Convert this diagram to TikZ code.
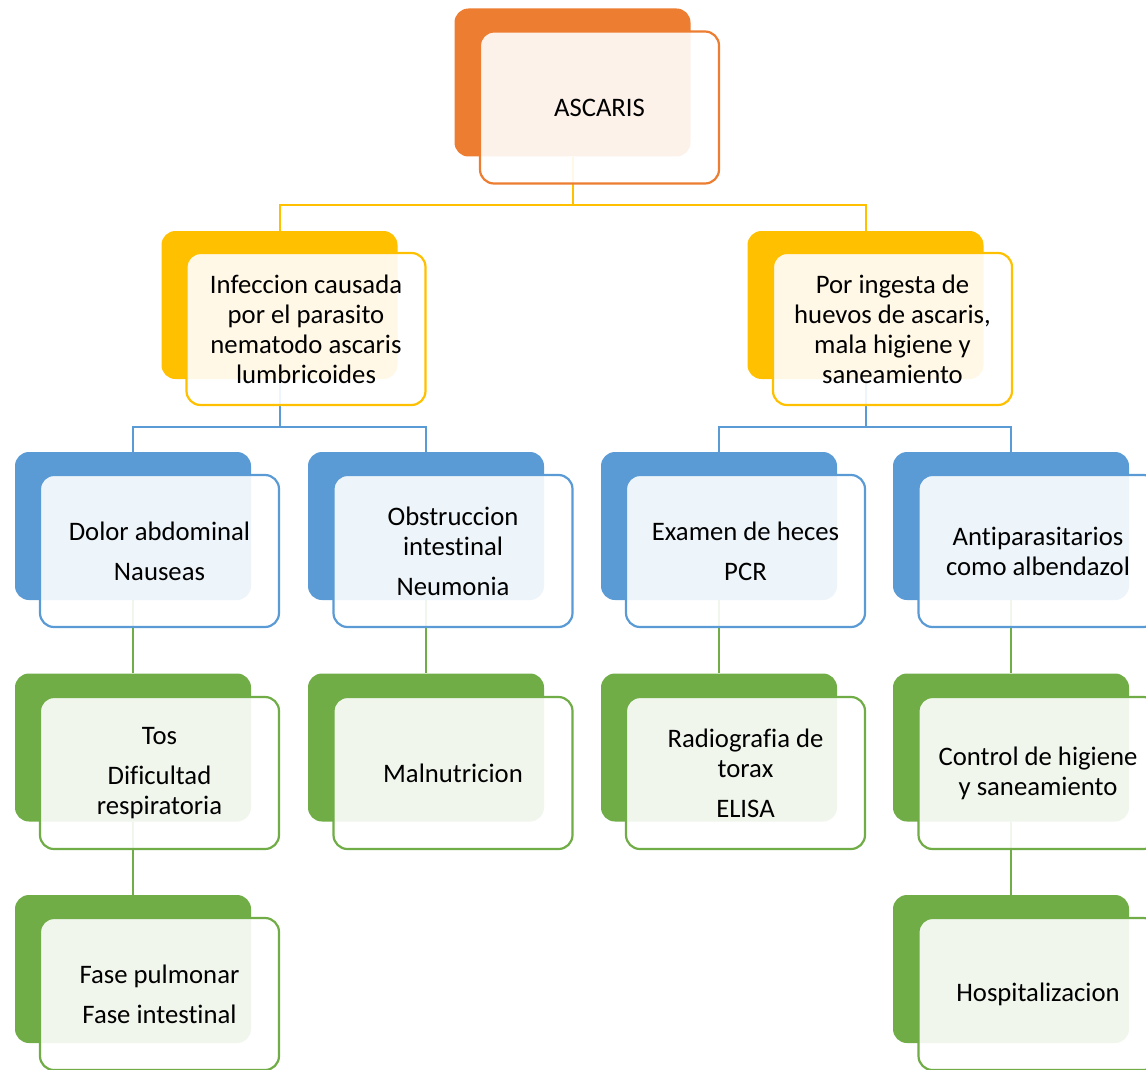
\documentclass[tikz,border=0pt]{standalone}
\usepackage{fontspec}
\setmainfont[RawFeature={-liga;-dlig}]{Carlito}
\definecolor{corange}{HTML}{ED7D31}
\definecolor{cgold}{HTML}{FFC000}
\definecolor{cblue}{HTML}{5B9BD5}
\definecolor{cgreen}{HTML}{70AD47}
\newcommand{\lbl}{\fontsize{26.7}{30}\selectfont}
\tikzset{
  backbox/.style={rounded corners=14pt, minimum width=236pt, minimum height=148pt, inner sep=0pt, fill=#1},
  frontbox/.style={rounded corners=14pt, minimum width=239pt, minimum height=152pt, draw=#1, line width=2.2pt, fill=white, fill opacity=0.9, text opacity=1, align=center, font=\lbl, inner sep=0pt, text=black},
  conn/.style={draw=#1, line width=2pt}
}
\begin{document}
\begin{tikzpicture}[x=1pt,y=-1pt]
\useasboundingbox (0,0) rectangle (1146,1070);
\clip (0,0) rectangle (1146,1070);
% back boxes
\node[backbox=corange] (b0) at (572.5,82.5) {};
\node[backbox=cgold] (b1) at (279.5,305) {};
\node[backbox=cgold] (b2) at (865.5,305) {};
\node[backbox=cblue] (b11) at (133,526) {};
\node[backbox=cblue] (b12) at (426,526) {};
\node[backbox=cblue] (b21) at (719,526) {};
\node[backbox=cblue] (b22) at (1011,526) {};
\node[backbox=cgreen] (c11) at (133,747.5) {};
\node[backbox=cgreen] (c12) at (426,747.5) {};
\node[backbox=cgreen] (c21) at (719,747.5) {};
\node[backbox=cgreen] (c22) at (1011,747.5) {};
\node[backbox=cgreen] (d11) at (133,969) {};
\node[backbox=cgreen] (d22) at (1011,969) {};
% connectors
\draw[conn=cgold] (b0.south) -- ++(0,48) coordinate (j0);
\draw[conn=cgold] (j0) -| (b1.north);
\draw[conn=cgold] (j0) -| (b2.north);
\draw[conn=cblue] (b1.south) -- ++(0,48) coordinate (j1);
\draw[conn=cblue] (j1) -| (b11.north);
\draw[conn=cblue] (j1) -| (b12.north);
\draw[conn=cblue] (b2.south) -- ++(0,48) coordinate (j2);
\draw[conn=cblue] (j2) -| (b21.north);
\draw[conn=cblue] (j2) -| (b22.north);
\draw[conn=cgreen] (b11.south) -- (c11.north);
\draw[conn=cgreen] (b12.south) -- (c12.north);
\draw[conn=cgreen] (b21.south) -- (c21.north);
\draw[conn=cgreen] (b22.south) -- (c22.north);
\draw[conn=cgreen] (c11.south) -- (d11.north);
\draw[conn=cgreen] (c22.south) -- (d22.north);
% front boxes
\node[frontbox=corange] (f0) at (599.5,107.5) {ASCARIS};
\node[frontbox=cgold] (f1) at (306,329) {Infeccion causada\\por el parasito\\nematodo ascaris\\lumbricoides};
\node[frontbox=cgold] (f2) at (892.5,329) {Por ingesta de\\huevos de ascaris,\\mala higiene y\\saneamiento};
\node[frontbox=cblue] (g11) at (159.5,551) {Dolor abdominal\\[10pt]Nauseas};
\node[frontbox=cblue] (g12) at (453,551) {Obstruccion\\intestinal\\[10pt]Neumonia};
\node[frontbox=cblue] (g21) at (745.5,551) {Examen de heces\\[10pt]PCR};
\node[frontbox=cblue] (g22) at (1038,551) {Antiparasitarios\\como albendazol};
\node[frontbox=cgreen] (h11) at (159.5,773) {Tos\\[10pt]Dificultad\\respiratoria};
\node[frontbox=cgreen] (h12) at (453,773) {Malnutricion};
\node[frontbox=cgreen] (h21) at (745.5,773) {Radiografia de\\torax\\[10pt]ELISA};
\node[frontbox=cgreen] (h22) at (1038,773) {Control de higiene\\y saneamiento};
\node[frontbox=cgreen] (k11) at (159.5,994) {Fase pulmonar\\[10pt]Fase intestinal};
\node[frontbox=cgreen] (k22) at (1038,994) {Hospitalizacion};
\end{tikzpicture}
\end{document}
